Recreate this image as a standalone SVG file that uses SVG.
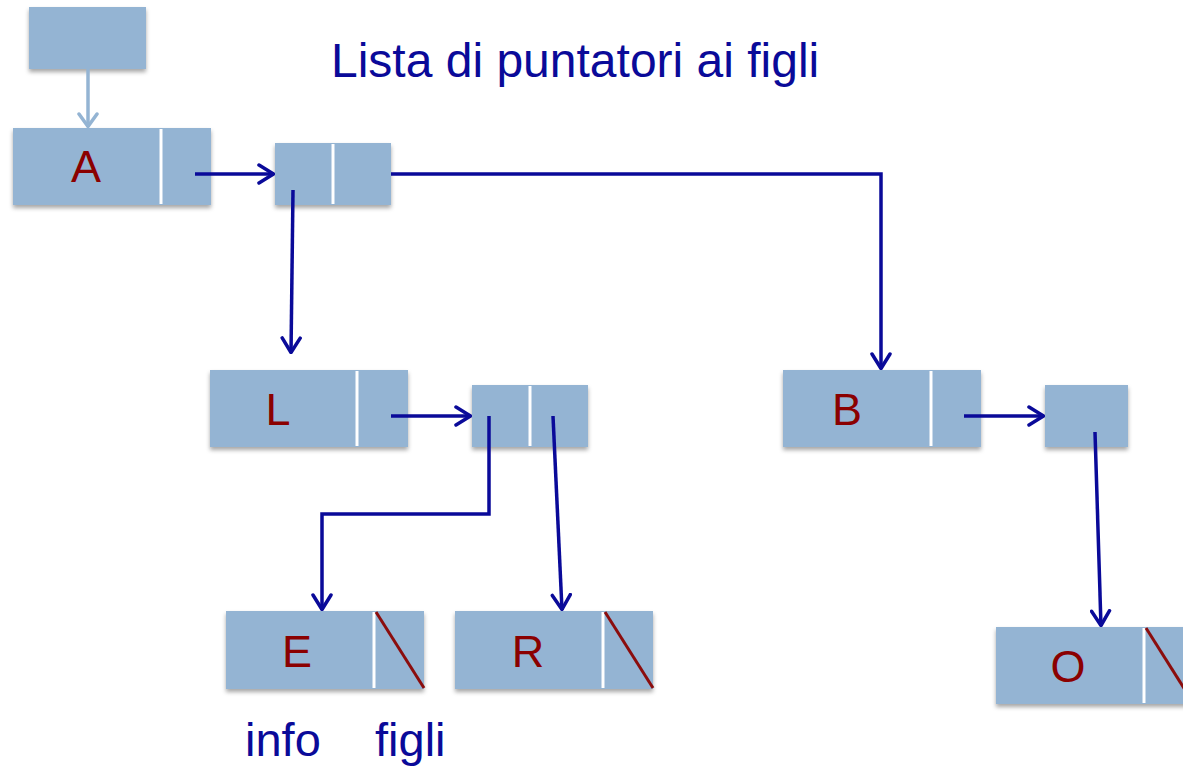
<svg xmlns="http://www.w3.org/2000/svg" width="1183" height="767" viewBox="0 0 1183 767">
  <style>
    .cell { fill: #94b4d3; filter: url(#shadow); }
    .sep { stroke: #ffffff; stroke-width: 3; }
    .nil { stroke: #8b0d0d; stroke-width: 3; }
    .lbl { font-family: "Liberation Sans", Arial, sans-serif; font-size: 45px; fill: #8b0000; text-anchor: middle; }
    .cap { font-family: "Liberation Sans", Arial, sans-serif; font-size: 47px; fill: #0a0a99; }
    .title { font-size: 48px; }
    .ptr { fill: none; stroke: #0a0a99; stroke-width: 3.5; marker-end: url(#head); }
  </style>
  <defs>
    <filter id="shadow" x="-10%" y="-20%" width="120%" height="150%">
      <feDropShadow dx="0" dy="3" stdDeviation="2" flood-color="#000000" flood-opacity="0.35"/>
    </filter>
    <marker id="head" viewBox="0 0 18 22" refX="17" refY="11" markerWidth="18" markerHeight="22" markerUnits="userSpaceOnUse" orient="auto">
      <path d="M2,2 L16.5,11 L2,20" fill="none" stroke="#0a0a99" stroke-width="3.5" stroke-linecap="round" stroke-linejoin="round"/>
    </marker>
    <marker id="headLight" viewBox="0 0 16 22" refX="15" refY="11" markerWidth="16" markerHeight="22" markerUnits="userSpaceOnUse" orient="auto">
      <path d="M2,2 L14.5,11 L2,20" fill="none" stroke="#94b4d3" stroke-width="3.5" stroke-linecap="round" stroke-linejoin="round"/>
    </marker>
  </defs>

  <text class="cap title" x="331" y="77">Lista di puntatori ai figli</text>

  <g id="root">
    <rect class="cell" x="29" y="7" width="117" height="62"/>
  </g>

  <g id="nodeA">
    <rect class="cell" x="13" y="128" width="198" height="77"/>
    <line class="sep" x1="161" y1="129" x2="161" y2="204"/>
    <text class="lbl" x="86" y="182">A</text>
  </g>

  <g id="listA1">
    <rect class="cell" x="275" y="143" width="116" height="62"/>
    <line class="sep" x1="333" y1="144" x2="333" y2="204"/>
  </g>

  <g id="nodeL">
    <rect class="cell" x="210" y="370" width="198" height="77"/>
    <line class="sep" x1="357" y1="371" x2="357" y2="446"/>
    <text class="lbl" x="278" y="425">L</text>
  </g>

  <g id="listL1">
    <rect class="cell" x="472" y="385" width="116" height="62"/>
    <line class="sep" x1="530" y1="386" x2="530" y2="446"/>
  </g>

  <g id="nodeB">
    <rect class="cell" x="783" y="370" width="198" height="77"/>
    <line class="sep" x1="931" y1="371" x2="931" y2="446"/>
    <text class="lbl" x="847" y="425">B</text>
  </g>

  <g id="listB1">
    <rect class="cell" x="1045" y="385" width="83" height="62"/>
  </g>

  <g id="nodeE">
    <rect class="cell" x="226" y="611" width="198" height="78"/>
    <line class="sep" x1="374" y1="612" x2="374" y2="688"/>
    <line class="nil" x1="376" y1="612" x2="424" y2="688"/>
    <text class="lbl" x="297" y="667">E</text>
  </g>

  <g id="nodeR">
    <rect class="cell" x="455" y="611" width="198" height="78"/>
    <line class="sep" x1="603" y1="612" x2="603" y2="688"/>
    <line class="nil" x1="605" y1="612" x2="653" y2="688"/>
    <text class="lbl" x="528" y="667">R</text>
  </g>

  <g id="nodeO">
    <rect class="cell" x="996" y="627" width="198" height="77"/>
    <line class="sep" x1="1144" y1="628" x2="1144" y2="703"/>
    <line class="nil" x1="1146" y1="628" x2="1194" y2="704"/>
    <text class="lbl" x="1068" y="682">O</text>
  </g>

  <text class="cap" x="245" y="756">info</text>
  <text class="cap" x="375" y="756">figli</text>

  <g id="connectors">
    <line x1="88" y1="69" x2="88" y2="127" stroke="#94b4d3" stroke-width="3.5" marker-end="url(#headLight)"/>
    <line class="ptr" x1="195" y1="174" x2="274" y2="174"/>
    <polyline class="ptr" points="391,174 881,174 881,369"/>
    <line class="ptr" x1="293" y1="190" x2="291" y2="353"/>
    <line class="ptr" x1="391" y1="416" x2="471" y2="416"/>
    <polyline class="ptr" points="489,416 489,514 322,514 322,610"/>
    <line class="ptr" x1="553" y1="416" x2="562" y2="610"/>
    <line class="ptr" x1="964" y1="416" x2="1044" y2="416"/>
    <line class="ptr" x1="1095" y1="432" x2="1101" y2="626"/>
  </g>
</svg>
